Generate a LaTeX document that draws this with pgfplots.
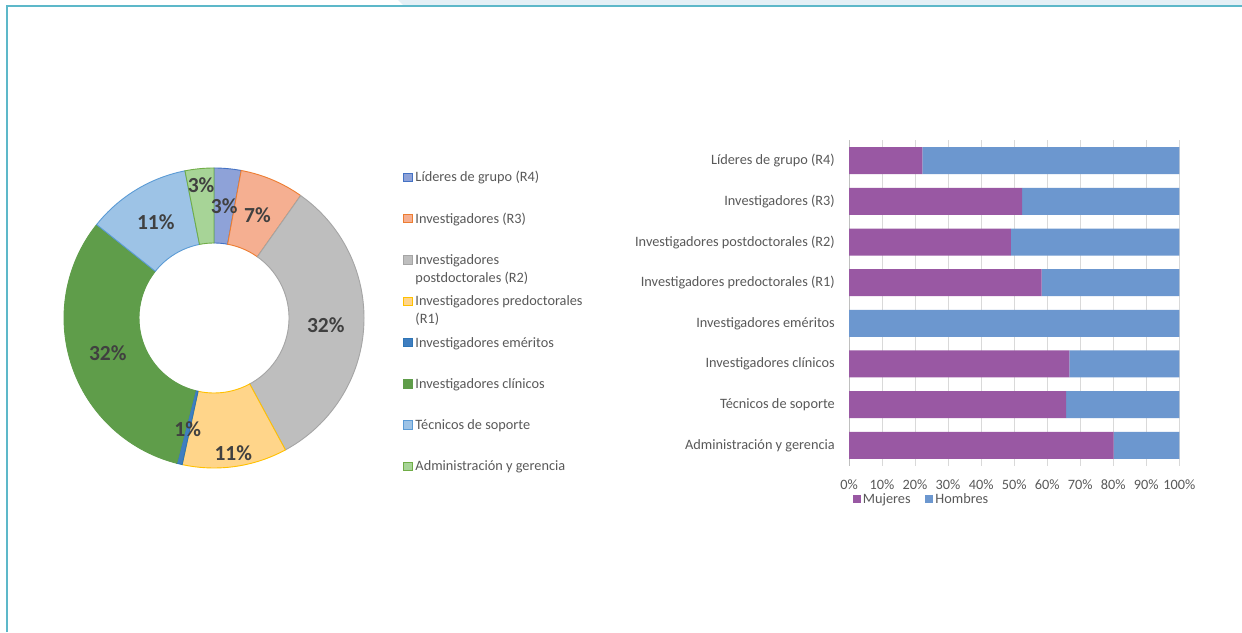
\documentclass[border=0pt]{standalone}
\usepackage{pgfplots}
\pgfplotsset{compat=1.18}
\usepackage{pgfplotstable}
\usepackage{fontspec}
\setmainfont{Carlito}

\definecolor{sl0f}{HTML}{8EA2D8}\definecolor{sl0d}{HTML}{4472C4}
\definecolor{sl1f}{HTML}{F5AF91}\definecolor{sl1d}{HTML}{ED7D31}
\definecolor{sl2f}{HTML}{BEBEBE}\definecolor{sl2d}{HTML}{A5A5A5}
\definecolor{sl3f}{HTML}{FFD58A}\definecolor{sl3d}{HTML}{FFC000}
\definecolor{sl4f}{HTML}{3F7EC0}\definecolor{sl4d}{HTML}{2E75B6}
\definecolor{sl5f}{HTML}{5F9D4A}\definecolor{sl5d}{HTML}{5F9D4A}
\definecolor{sl6f}{HTML}{9DC3E6}\definecolor{sl6d}{HTML}{5B9BD5}
\definecolor{sl7f}{HTML}{A7D497}\definecolor{sl7d}{HTML}{70AD47}
\definecolor{mujc}{HTML}{9958A3}
\definecolor{homc}{HTML}{6C97CF}
\definecolor{txtgray}{HTML}{595959}
\definecolor{labgray}{HTML}{404040}
\definecolor{gridc}{HTML}{D9D9D9}
\definecolor{axgray}{HTML}{BFBFBF}
\definecolor{framec}{HTML}{5DB8C9}
\definecolor{stripc}{HTML}{E4F0F6}

% donut: share (%) and label radius
\pgfplotstableread{
share labr
2.9  112
6.9  112
32.3 112
11.3 137
0.6  114
31.7 112
11.2 112
3.1  133
}\donut

% bars: share of women / men (%)
\pgfplotstableread{
y mujeres hombres
0 22.2 77.8
1 52.4 47.6
2 49.0 51.0
3 58.3 41.7
4 0.0  100.0
5 66.7 33.3
6 65.7 34.3
7 80.1 19.9
}\bars

\newcommand\getS[1]{\csname dS#1\endcsname}
\newcommand\getE[1]{\csname dE#1\endcsname}
\newcommand\getM[1]{\csname dM#1\endcsname}
\newcommand\getR[1]{\csname dR#1\endcsname}
\newcommand\getP[1]{\csname dP#1\endcsname}
\newcommand\lfont{\fontsize{14.3}{18}\selectfont}

\begin{document}
\begin{tikzpicture}
\useasboundingbox (0pt,0pt) rectangle (1242pt,632pt);
\fill[white] (0pt,0pt) rectangle (1242pt,632pt);
\fill[stripc] (398pt,632pt) -- (1242pt,632pt) -- (1242pt,626pt) -- (404pt,626pt) -- cycle;
\draw[framec, line width=2pt] (6.5pt,0pt) -- (6.5pt,626pt) -- (1242pt,626pt);

% precompute slice angles
\xdef\cum{0}
\foreach \i in {0,...,7}{%
  \pgfplotstablegetelem{\i}{share}\of\donut
  \pgfmathsetmacro\s{\pgfplotsretval}%
  \pgfplotstablegetelem{\i}{labr}\of\donut
  \pgfmathsetmacro\lr{\pgfplotsretval}%
  \pgfmathsetmacro\aS{90-3.6*\cum}%
  \pgfmathsetmacro\aE{90-3.6*(\cum+\s)}%
  \pgfmathsetmacro\aM{(\aS+\aE)/2}%
  \pgfmathtruncatemacro\pc{round(\s)}%
  \expandafter\xdef\csname dS\i\endcsname{\aS}%
  \expandafter\xdef\csname dE\i\endcsname{\aE}%
  \expandafter\xdef\csname dM\i\endcsname{\aM}%
  \expandafter\xdef\csname dR\i\endcsname{\lr}%
  \expandafter\xdef\csname dP\i\endcsname{\pc}%
  \pgfmathsetmacro\nc{\cum+\s}%
  \xdef\cum{\nc}%
}

% ---------------- donut ----------------
\begin{axis}[
  at={(214pt,314pt)}, anchor=origin,
  x=1pt, y=1pt,
  xmin=-160, xmax=160, ymin=-160, ymax=160,
  hide axis,
  legend image code/.code={\draw[#1, line width=0.8pt] (0pt,-4.25pt) rectangle (8.5pt,4.25pt);},
  legend style={draw=none, fill=none, at={(1.0906,1.0048)}, anchor=north west,
    inner sep=0pt, row sep=0pt, column sep=3pt, cells={anchor=west},
    nodes={inner sep=0pt, text height=25.15pt, text depth=16.15pt, text width=185pt,
      align=flush left, font=\lfont, text=txtgray}},
]
\pgfplotsinvokeforeach{0,...,7}{%
  \filldraw[fill=sl#1f, draw=sl#1d, line width=0.9pt]
    (axis cs:{150*cos(\getS{#1})},{150*sin(\getS{#1})})
    arc[start angle=\getS{#1}, end angle=\getE{#1}, radius=150pt]
    -- (axis cs:{75*cos(\getE{#1})},{75*sin(\getE{#1})})
    arc[start angle=\getE{#1}, end angle=\getS{#1}, radius=75pt]
    -- cycle;
}
\pgfplotsinvokeforeach{0,...,7}{%
  \node[font=\bfseries\fontsize{21.5}{21.5}\selectfont, text=labgray]
    at (axis cs:{\getR{#1}*cos(\getM{#1})},{\getR{#1}*sin(\getM{#1})}) {\getP{#1}\%};
}
\addlegendimage{fill=sl0f, draw=sl0d}\addlegendentry{Líderes de grupo (R4)}
\addlegendimage{fill=sl1f, draw=sl1d}\addlegendentry{Investigadores (R3)}
\addlegendimage{fill=sl2f, draw=sl2d}\addlegendentry{Investigadores\\postdoctorales (R2)}
\addlegendimage{fill=sl3f, draw=sl3d}\addlegendentry{Investigadores predoctorales\\(R1)}
\addlegendimage{fill=sl4f, draw=sl4d}\addlegendentry{Investigadores eméritos}
\addlegendimage{fill=sl5f, draw=sl5d}\addlegendentry{Investigadores clínicos}
\addlegendimage{fill=sl6f, draw=sl6d}\addlegendentry{Técnicos de soporte}
\addlegendimage{fill=sl7f, draw=sl7d}\addlegendentry{Administración y gerencia}
\end{axis}

% ---------------- stacked bars ----------------
\begin{axis}[
  at={(849pt,166.4pt)}, anchor=south west,
  scale only axis, width=330.3pt, height=325.2pt,
  xbar stacked, bar width=27pt,
  xmin=0, xmax=100, ymin=-0.5, ymax=7.5,
  y dir=reverse,
  enlargelimits=false,
  axis x line*=bottom, axis y line*=left,
  axis line style={-},
  x axis line style={draw=none},
  y axis line style={draw=axgray, line width=0.8pt},
  major tick length=0pt,
  xmajorgrids, grid style={gridc, line width=0.8pt},
  xtick={0,10,...,100},
  xticklabels={0\%,10\%,20\%,30\%,40\%,50\%,60\%,70\%,80\%,90\%,100\%},
  ytick={0,...,7},
  yticklabels={Líderes de grupo (R4),Investigadores (R3),Investigadores postdoctorales (R2),Investigadores predoctorales (R1),Investigadores eméritos,Investigadores clínicos,Técnicos de soporte,Administración y gerencia},
  xticklabel style={font=\lfont, text=txtgray, inner sep=0pt, yshift=-14pt},
  yticklabel style={font=\lfont, text=txtgray, inner sep=0pt, xshift=-14pt},
  legend columns=2,
  legend style={draw=none, fill=none, at={(0.0112,-0.1027)}, anchor=west,
    inner sep=0pt, column sep=2pt,
    nodes={inner sep=0pt, text height=9.5pt, text depth=0.5pt, font=\lfont, text=txtgray},
    /tikz/every even column/.append style={column sep=14.7pt}},
  sqleg/.style={legend image code/.code={\fill[##1] (0pt,-4pt) rectangle (8pt,4pt);}},
]
\addplot[fill=mujc, draw=none, sqleg] table[x=mujeres, y=y] {\bars};
\addlegendentry{Mujeres}
\addplot[fill=homc, draw=none, sqleg] table[x=hombres, y=y] {\bars};
\addlegendentry{Hombres}
\end{axis}
\end{tikzpicture}
\end{document}
